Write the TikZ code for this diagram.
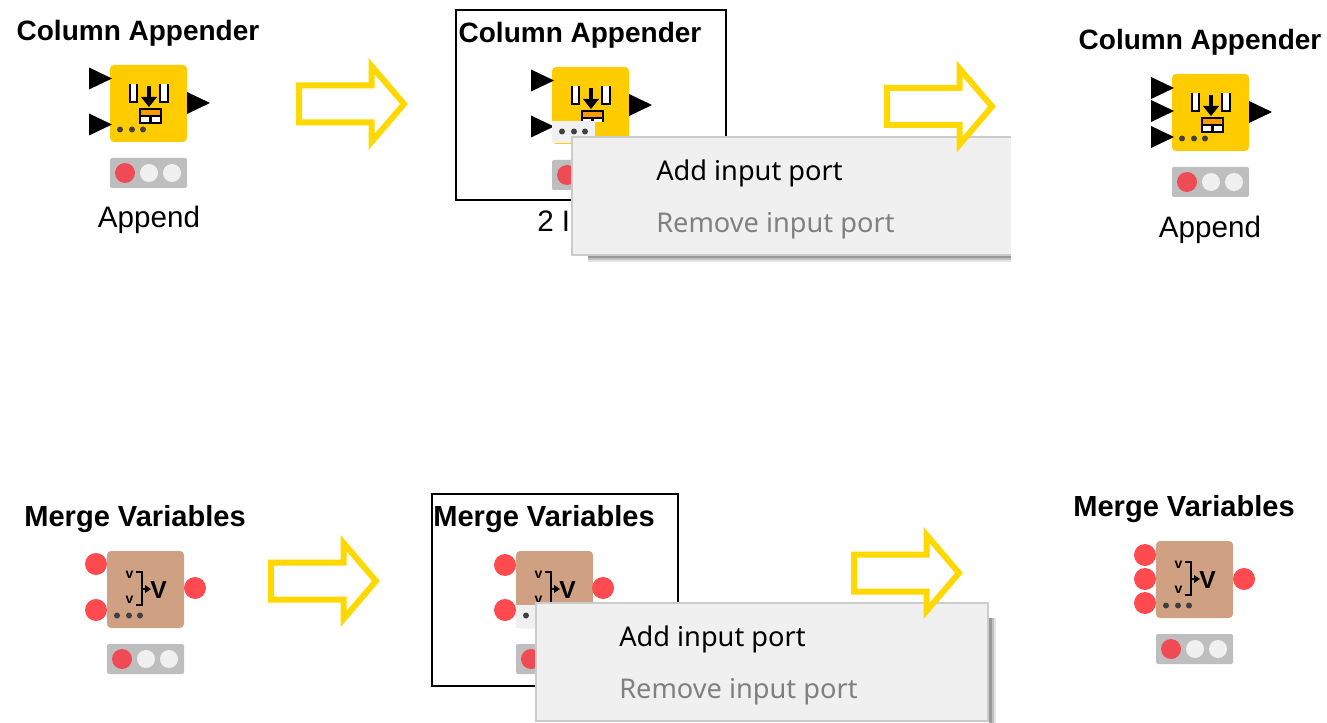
\documentclass[tikz,border=0pt]{standalone}
\usepackage{fontspec}
\setmainfont{Liberation Sans}
\newfontfamily\menufont{Noto Sans}
\usepackage{tikz}
\usetikzlibrary{positioning}
\definecolor{appenderyellow}{HTML}{FFCC00}
\definecolor{mergebrown}{HTML}{CFA082}
\definecolor{portred}{HTML}{FF4B50}
\definecolor{lampred}{HTML}{EF4B55}
\definecolor{lampgrey}{HTML}{BEBEBE}
\definecolor{arrowyellow}{HTML}{FFD800}
\definecolor{menugrey}{HTML}{F0F0F0}
\tikzstyle{title}     = [font=\fontsize{21}{21}\selectfont\bfseries, text=black, inner sep=0pt]
\tikzstyle{caption}   = [font=\fontsize{22.2}{22.2}\selectfont, text=black, inner sep=0pt]
\tikzstyle{menuitem}  = [font=\fontsize{20.4}{20.4}\selectfont\menufont, anchor=west, inner sep=0pt]
\tikzstyle{frame}     = [draw=black, line width=1.5pt]
\tikzstyle{menu}      = [draw=black!20, line width=1.4pt, fill=menugrey]
\tikzstyle{blockarrow} = [draw=arrowyellow, line width=4.5pt, miter limit=10, fill=white]
\tikzstyle{smallv}    = [font=\fontsize{10.5}{10.5}\selectfont\bfseries, inner sep=0pt]
\newcommand{\mergetitle}{\fontsize{21.8}{21.8}\selectfont Merge Variables}
\newcommand{\knimebox}[5]{
	\begin{scope}[shift={(#1,#2)}]
		\fill[#3, rounded corners=3pt] (0,0) rectangle (77,77);
		\fill[lampgrey, rounded corners=1.5pt] (0,93) rectangle (77,123);
		\fill[lampred] (15,108) circle (10);
		\fill[black!6] (39,108) circle (9);
		\fill[black!6] (62,108) circle (9);
		\node[title] (#4) at (28,-32) {#5};
	\end{scope}
}
\newcommand{\dataport}[3]{
	\fill[black] (#1-21,#2+#3-11) -- (#1+2,#2+#3) -- (#1-21,#2+#3+11) -- cycle;
}
\newcommand{\varport}[3]{
	\fill[portred] (#1,#2+#3) circle (11);
}
\newcommand{\threedots}[3]{
	\foreach \dx in {10,22,33}
		\fill[#3] (#1+\dx,#2+64.5) circle (3);
}
\newcommand{\appendicon}[2]{
	\begin{scope}[shift={(#1,#2)}, line width=1.6pt]
		\draw[fill=white] (20,19) -- (20,37) -- (27,37) -- (27,19);
		\draw[fill=white] (50,19) -- (50,37) -- (58,37) -- (58,19);
		\draw[line width=2.6pt] (39,21) -- (39,34);
		\fill[black] (31,32) -- (47,32) -- (39,42) -- cycle;
	\end{scope}
}
\newcommand{\appendtable}[2]{
	\begin{scope}[shift={(#1,#2)}, line width=1.6pt]
		\draw[fill=white] (30,44) rectangle (51,58);
		\fill[orange!80!yellow] (31,45) rectangle (50,51);
		\draw (30,51) -- (51,51);
		\draw (40.5,51) -- (40.5,58);
	\end{scope}
}
\newcommand{\mergeicon}[2]{
	\begin{scope}[shift={(#1,#2)}]
		\node[smallv] (#1v) at (22.5,24) {v};
		\node[smallv] (#1w) at (22.5,49) {v};
		\draw[line width=1.5pt] (29,21) -- (35,21) -- (35,54) -- (29,54);
		\draw[line width=1.5pt] (35,38) -- (41,38);
		\fill[black] (38,34) -- (44,38) -- (38,42) -- cycle;
		\node[font=\fontsize{18.5}{18.5}\selectfont\bfseries, inner sep=0pt] (#1x) at (51.5,39) {V};
	\end{scope}
}
\newcommand{\hollowarrow}[2]{
	\draw[blockarrow] (#1,#2-18.5) -- (#1+72.5,#2-18.5) -- (#1+72.5,#2-38) -- (#1+105,#2) -- (#1+72.5,#2+38) -- (#1+72.5,#2+18.5) -- (#1,#2+18.5) -- cycle;
}

\begin{document}
\begin{tikzpicture}[x=0.75pt,y=-0.75pt]
	\useasboundingbox (0,0) rectangle (1327,723);

	% top row
	\knimebox{110}{65}{appenderyellow}{colA}{Column Appender}
	\dataport{110}{65}{13.5}
	\dataport{110}{65}{59.5}
	\dataport{208}{65}{38}
	\appendicon{110}{65}
	\appendtable{110}{65}
	\threedots{110}{65}{black!75}
	\node[caption] (capA) at (149,220) {Append};
	\hollowarrow{299}{104}

	\draw[frame] (456,10) rectangle (726,200);
	\knimebox{552}{67}{appenderyellow}{colB}{Column Appender}
	\dataport{552}{67}{13.5}
	\dataport{552}{67}{59.5}
	\dataport{650}{67}{38}
	\appendicon{552}{67}
	\appendtable{552}{67}
	\fill[appenderyellow] (595,122) rectangle (610,130);
	\fill[black!6] (552,121) rectangle (595,143);
	\threedots{552}{67}{black!75}
	\node[caption, anchor=west] (capB) at (537,221) {2 I};
	% menu shadow
	\fill[black!40] (588,256) rectangle (1011,258);
	\fill[black!25] (588,258) rectangle (1011,260);
	\fill[black!10] (588,260) rectangle (1011,262);
	\draw[menu] (1011,137) -- (572,137) -- (572,255) -- (1011,255);
	\node[menuitem] (addA) at (656,173) {Add input port};
	\node[menuitem, text=black!50] (remA) at (656,226) {Remove input port};
	\hollowarrow{887}{106.5}

	\knimebox{1172}{74}{appenderyellow}{colC}{Column Appender}
	\dataport{1172}{74}{14}
	\dataport{1172}{74}{37}
	\dataport{1172}{74}{63}
	\dataport{1270}{74}{38}
	\appendicon{1172}{74}
	\appendtable{1172}{74}
	\threedots{1172}{74}{black!75}
	\node[caption] (capC) at (1210,230) {Append};

	% bottom row
	\knimebox{107}{551}{mergebrown}{mergeA}{\mergetitle}
	\varport{96}{551}{13}
	\varport{96}{551}{59}
	\varport{195}{551}{37}
	\mergeicon{107}{551}
	\threedots{107}{551}{black!75}
	\hollowarrow{271}{581}

	\draw[frame] (432,494) rectangle (678,686);
	\knimebox{516}{551}{mergebrown}{mergeB}{\mergetitle}
	\varport{505}{551}{14}
	\varport{505}{551}{59}
	\varport{603}{551}{37}
	\mergeicon{516}{551}
	\fill[black!6] (516,605) rectangle (560,628);
	\threedots{516}{551}{black!75}
	% menu shadow
	\fill[black!40] (989,618) rectangle (992,723);
	\fill[black!25] (992,618) rectangle (994,723);
	\fill[black!10] (994,618) rectangle (996,723);
	\draw[menu] (536,721) -- (536,603) -- (988,603) -- (988,721) -- cycle;
	\node[menuitem] (addB) at (619,639) {Add input port};
	\node[menuitem, text=black!50] (remB) at (619,692) {Remove input port};
	\hollowarrow{854}{573}

	\knimebox{1156}{541}{mergebrown}{mergeC}{\mergetitle}
	\varport{1145}{541}{14}
	\varport{1145}{541}{38}
	\varport{1145}{541}{62}
	\varport{1244}{541}{38}
	\mergeicon{1156}{541}
	\threedots{1156}{541}{black!75}
\end{tikzpicture}
\end{document}
